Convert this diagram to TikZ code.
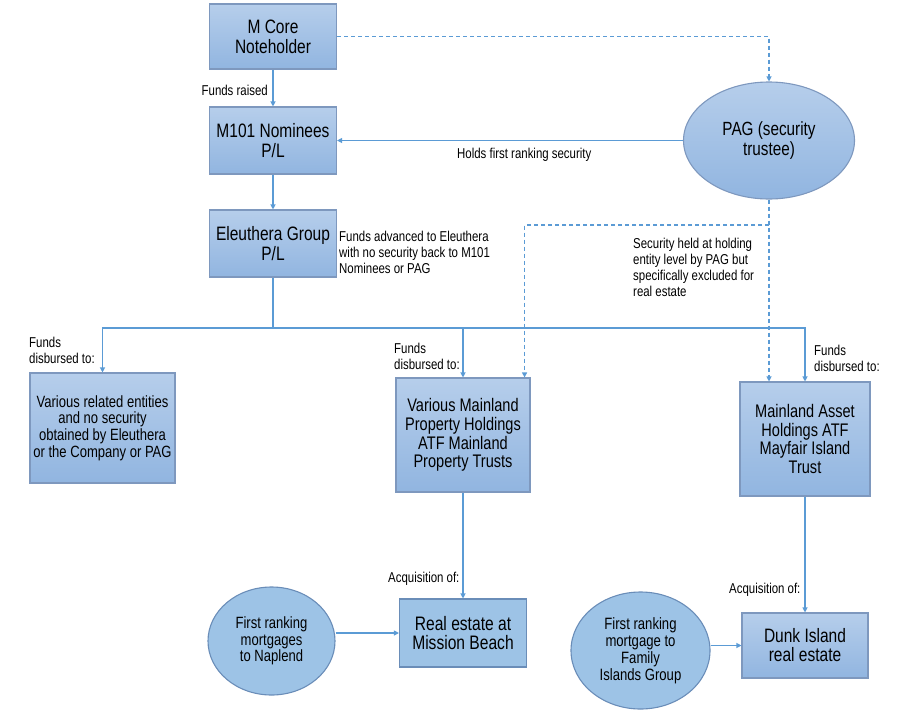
\documentclass[tikz,border=0pt]{standalone}
\usepackage{fontspec}
\setmainfont{Liberation Sans}[FakeStretch=0.8]
\usetikzlibrary{shapes.geometric,arrows.meta}
\definecolor{boxtop}{HTML}{B6CEEB}
\definecolor{boxbot}{HTML}{91B5E0}
\definecolor{boxline}{HTML}{7E98BE}
\definecolor{flatfill}{HTML}{9DC3E6}
\definecolor{flatline}{HTML}{6A8DB8}
\definecolor{linkblue}{HTML}{5B9BD5}
\newcommand{\fsz}[2]{\fontsize{#1}{#2}\selectfont}

\begin{document}
\begin{tikzpicture}[x=1pt,y=-1pt,
  box/.style={draw=boxline,line width=1.1pt,top color=boxtop,bottom color=boxbot,inner sep=0pt,align=center},
  flatbox/.style={draw=flatline,line width=1.1pt,fill=flatfill,inner sep=0pt,align=center},
  oval/.style={box,ellipse},
  flatoval/.style={flatbox,ellipse},
  link/.style={draw=linkblue,line width=1.1pt,-{Triangle[length=5pt,width=5pt]}},
  sec/.style={link,dash pattern=on 4pt off 3pt},
  note/.style={inner sep=0pt,align=left,font=\fsz{14.3}{16.3}}]
\useasboundingbox (0,0) rectangle (902,712);

%TOP CHAIN
\node[box,minimum width=127pt,minimum height=65pt,font=\fsz{19.4}{20}] (mcore) at (273,36.5) {M Core\\Noteholder};
\node[box,minimum width=127pt,minimum height=67pt,font=\fsz{19.4}{20}] (m101) at (273,140.5) {M101 Nominees\\P/L};
\node[box,minimum width=127pt,minimum height=67pt,font=\fsz{19.4}{20}] (eleuthera) at (273,243.5) {Eleuthera Group\\P/L};
\node[oval,minimum width=171pt,minimum height=117pt,font=\fsz{19.1}{20}] (pag) at (769,140.5) {PAG (security\\trustee)};

%MIDDLE ROW
\node[box,minimum width=145pt,minimum height=110pt,font=\fsz{16.3}{16.7}] (related) at (102.5,428) {Various related entities\\and no security\\obtained by Eleuthera\\or the Company or PAG};
\node[box,minimum width=134pt,minimum height=114pt,font=\fsz{18.2}{18.7}] (mainland) at (463,435) {Various Mainland\\Property Holdings\\ATF Mainland\\Property Trusts};
\node[box,minimum width=130pt,minimum height=114pt,font=\fsz{18.2}{18.7}] (asset) at (805,439) {Mainland Asset\\Holdings ATF\\Mayfair Island\\Trust};

%BOTTOM ROW
\node[flatbox,minimum width=127pt,minimum height=68pt,font=\fsz{19.5}{19}] (mission) at (463,633) {Real estate at\\Mission Beach};
\node[box,minimum width=126pt,minimum height=65pt,font=\fsz{19.4}{19}] (dunk) at (805,645.5) {Dunk Island\\real estate};
\node[flatoval,minimum width=127pt,minimum height=108pt,font=\fsz{16.3}{16.5}] (naplend) at (271.5,641) {First ranking\\mortgages\\to Naplend};
\node[flatoval,minimum width=139pt,minimum height=117pt,font=\fsz{16.4}{17}] (family) at (640.5,650.5) {First ranking\\mortgage to\\Family\\Islands Group};

%FUNDS
\coordinate (split) at (273,328);
\draw[link] (mcore) -- (m101);
\draw[link] (m101) -- (eleuthera);
\draw[draw=linkblue,line width=1.1pt] (eleuthera) -- (split);
\draw[link] (split) -| (related);
\draw[link] (split) -| (mainland);
\draw[link] (split) -| (asset);
\draw[link] (mainland) -- (mission);
\draw[link] (asset) -- (dunk);
\draw[link] (mission.west -| naplend.east) -- (mission.west);
\draw[link] (dunk.west -| family.east) -- (dunk.west);

%SECURITY
\coordinate (secsplit) at (769,225);
\draw[sec] (mcore.east) -| (pag.north);
\draw[link] (pag) -- (m101);
\draw[sec] (pag.south) -- (pag.south |- asset.north);
\draw[sec] (secsplit) -| ([xshift=-6pt]mainland.north east);

%LABELS
\node[note,anchor=base east] (raised) at (268,95) {Funds raised};
\node[note,anchor=base west] (holds) at (457,158) {Holds first ranking security};
\node[note,anchor=north west] (advanced) at (339,230.5) {Funds advanced to Eleuthera\\with no security back to M101\\Nominees or PAG};
\node[note,anchor=north west] (excluded) at (633,237.5) {Security held at holding\\entity level by PAG but\\specifically excluded for\\real estate};
\node[note,anchor=north west] (disb1) at (29,336.5) {Funds\\disbursed to:};
\node[note,anchor=north west] (disb2) at (394,342.5) {Funds\\disbursed to:};
\node[note,anchor=north west] (disb3) at (814,344.5) {Funds\\disbursed to:};
\node[note,anchor=base west] (acq1) at (388,582) {Acquisition of:};
\node[note,anchor=base west] (acq2) at (729,593) {Acquisition of:};
\end{tikzpicture}
\end{document}
